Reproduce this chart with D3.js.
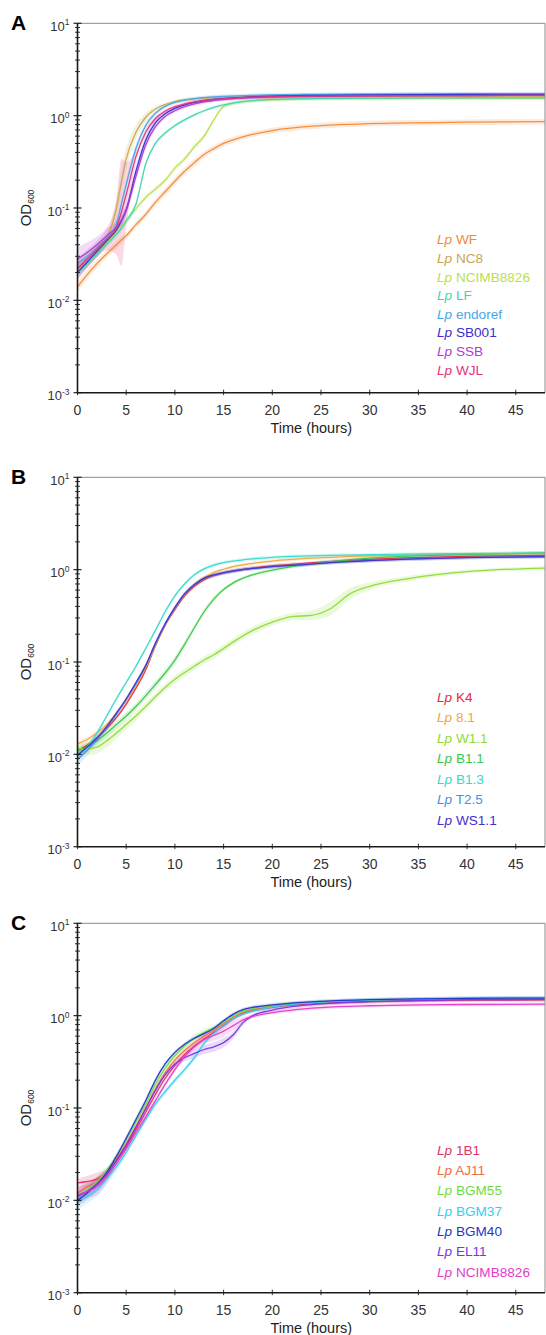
<!DOCTYPE html>
<html>
<head>
<meta charset="utf-8">
<script src="https://cdn.jsdelivr.net/npm/d3@7"></script>
<style>
  html, body { margin: 0; padding: 0; background: #fff; }
  svg { display: block; font-family: "Liberation Sans", Arial, sans-serif; }
</style>
</head>
<body>
<div id="chartDiv"></div>
<script>
'use strict';

// ---- data (OD600 vs time in hours) ----

// panel A
const timesA = [0, 1, 2, 3, 4, 4.5, 5, 6, 7, 8, 9, 10, 11, 12, 13, 14, 15, 17, 20, 25, 30, 40, 48];
const strainsA = ['WF', 'NC8', 'NCIMB8826', 'LF', 'endoref', 'SB001', 'SSB', 'WJL'];
const odA = [
    [0.014, 0.019, 0.025, 0.032, 0.040, 0.045, 0.050, 0.066, 0.085, 0.115, 0.15, 0.195, 0.25, 0.31, 0.38, 0.44, 0.50, 0.59, 0.69, 0.78, 0.82, 0.85, 0.86],
    [0.022, 0.027, 0.034, 0.046, 0.10, 0.19, 0.34, 0.66, 0.96, 1.18, 1.32, 1.42, 1.48, 1.52, 1.55, 1.57, 1.58, 1.60, 1.61, 1.62, 1.62, 1.63, 1.63],
    [0.020, 0.025, 0.032, 0.042, 0.055, 0.063, 0.073, 0.098, 0.13, 0.16, 0.20, 0.27, 0.34, 0.46, 0.60, 0.90, 1.25, 1.42, 1.48, 1.52, 1.53, 1.54, 1.54],
    [0.020, 0.025, 0.032, 0.041, 0.052, 0.060, 0.072, 0.11, 0.30, 0.50, 0.65, 0.78, 0.90, 1.02, 1.13, 1.23, 1.31, 1.42, 1.50, 1.54, 1.55, 1.56, 1.56],
    [0.025, 0.030, 0.037, 0.047, 0.068, 0.11, 0.18, 0.44, 0.78, 1.06, 1.26, 1.39, 1.47, 1.53, 1.57, 1.60, 1.62, 1.65, 1.68, 1.70, 1.71, 1.72, 1.72],
    [0.020, 0.026, 0.034, 0.044, 0.058, 0.072, 0.095, 0.25, 0.54, 0.84, 1.05, 1.20, 1.31, 1.39, 1.45, 1.50, 1.53, 1.58, 1.63, 1.66, 1.68, 1.70, 1.70],
    [0.028, 0.033, 0.040, 0.050, 0.062, 0.074, 0.095, 0.22, 0.48, 0.76, 0.98, 1.13, 1.25, 1.34, 1.41, 1.46, 1.50, 1.55, 1.59, 1.62, 1.64, 1.65, 1.66],
    [0.022, 0.028, 0.036, 0.046, 0.062, 0.090, 0.14, 0.36, 0.66, 0.93, 1.12, 1.25, 1.34, 1.41, 1.46, 1.50, 1.53, 1.57, 1.61, 1.63, 1.64, 1.65, 1.66]
];
// half-width of the shaded band, in log10 units
const bandA = [
    [0.05, 0.05, 0.045, 0.04, 0.04, 0.04, 0.035, 0.035, 0.035, 0.04, 0.04, 0.04, 0.04, 0.04, 0.035, 0.035, 0.035, 0.03, 0.03, 0.03, 0.03, 0.03, 0.03],
    [0.06, 0.05, 0.05, 0.06, 0.12, 0.15, 0.12, 0.08, 0.05, 0.03, 0.02, 0.02, 0.02, 0.02, 0.02, 0.02, 0.02, 0.02, 0.02, 0.02, 0.02, 0.02, 0.02],
    [0.03, 0.03, 0.03, 0.03, 0.03, 0.03, 0.03, 0.03, 0.03, 0.03, 0.03, 0.03, 0.03, 0.03, 0.03, 0.02, 0.02, 0.02, 0.02, 0.02, 0.02, 0.02, 0.02],
    [0.04, 0.04, 0.04, 0.04, 0.04, 0.04, 0.04, 0.03, 0.03, 0.02, 0.02, 0.02, 0.02, 0.02, 0.02, 0.02, 0.02, 0.02, 0.02, 0.02, 0.02, 0.02, 0.02],
    [0.06, 0.05, 0.05, 0.05, 0.05, 0.06, 0.06, 0.05, 0.03, 0.02, 0.02, 0.02, 0.02, 0.02, 0.02, 0.02, 0.02, 0.02, 0.02, 0.02, 0.02, 0.02, 0.02],
    [0.07, 0.06, 0.06, 0.05, 0.05, 0.05, 0.05, 0.05, 0.04, 0.03, 0.02, 0.02, 0.02, 0.02, 0.02, 0.02, 0.02, 0.02, 0.02, 0.02, 0.02, 0.02, 0.02],
    [0.13, 0.11, 0.09, 0.08, 0.07, 0.07, 0.06, 0.05, 0.04, 0.03, 0.02, 0.02, 0.02, 0.02, 0.02, 0.02, 0.02, 0.02, 0.02, 0.02, 0.02, 0.02, 0.02],
    [0.12, 0.10, 0.09, 0.12, 0.30, 0.58, 0.35, 0.06, 0.04, 0.03, 0.02, 0.02, 0.02, 0.02, 0.02, 0.02, 0.02, 0.02, 0.02, 0.02, 0.02, 0.02, 0.02]
];

// panel B
const timesB = [0, 1, 2, 3, 4, 5, 6, 7, 8, 9, 10, 11, 12, 13, 14, 15, 16, 18, 20, 22, 24, 26, 28, 30, 34, 40, 48];
const strainsB = ['K4', '8.1', 'W1.1', 'B1.1', 'B1.3', 'T2.5', 'WS1.1'];
const odB = [
    [0.011, 0.0125, 0.015, 0.019, 0.025, 0.035, 0.052, 0.082, 0.15, 0.25, 0.37, 0.52, 0.66, 0.78, 0.86, 0.92, 0.97, 1.04, 1.10, 1.14, 1.18, 1.22, 1.26, 1.29, 1.34, 1.39, 1.43],
    [0.013, 0.0145, 0.017, 0.021, 0.028, 0.038, 0.055, 0.087, 0.15, 0.25, 0.38, 0.54, 0.69, 0.82, 0.93, 1.01, 1.08, 1.17, 1.24, 1.29, 1.33, 1.36, 1.39, 1.41, 1.44, 1.47, 1.50],
    [0.0115, 0.0115, 0.012, 0.014, 0.017, 0.021, 0.026, 0.033, 0.042, 0.053, 0.065, 0.077, 0.090, 0.105, 0.12, 0.14, 0.165, 0.22, 0.27, 0.31, 0.32, 0.38, 0.55, 0.66, 0.80, 0.95, 1.04],
    [0.011, 0.012, 0.014, 0.017, 0.021, 0.026, 0.033, 0.043, 0.057, 0.076, 0.105, 0.155, 0.235, 0.35, 0.48, 0.61, 0.72, 0.88, 0.99, 1.08, 1.15, 1.22, 1.28, 1.33, 1.40, 1.46, 1.52],
    [0.0095, 0.012, 0.017, 0.026, 0.040, 0.060, 0.090, 0.14, 0.22, 0.35, 0.52, 0.70, 0.88, 1.02, 1.12, 1.19, 1.24, 1.31, 1.36, 1.39, 1.41, 1.43, 1.44, 1.45, 1.47, 1.49, 1.51],
    [0.0088, 0.011, 0.0145, 0.0195, 0.027, 0.039, 0.058, 0.09, 0.155, 0.255, 0.385, 0.54, 0.68, 0.80, 0.87, 0.92, 0.96, 1.03, 1.08, 1.12, 1.16, 1.20, 1.23, 1.26, 1.31, 1.36, 1.39],
    [0.0098, 0.012, 0.015, 0.020, 0.028, 0.040, 0.060, 0.092, 0.16, 0.26, 0.39, 0.55, 0.69, 0.81, 0.88, 0.93, 0.97, 1.03, 1.08, 1.11, 1.15, 1.19, 1.22, 1.25, 1.30, 1.35, 1.38]
];
const bandB = [
    [0.03, 0.03, 0.03, 0.03, 0.02, 0.02, 0.02, 0.02, 0.02, 0.02, 0.02, 0.02, 0.02, 0.02, 0.02, 0.02, 0.02, 0.02, 0.02, 0.02, 0.02, 0.02, 0.02, 0.02, 0.02, 0.02, 0.02],
    [0.03, 0.03, 0.03, 0.03, 0.02, 0.02, 0.02, 0.02, 0.02, 0.02, 0.02, 0.02, 0.02, 0.02, 0.02, 0.02, 0.02, 0.02, 0.02, 0.02, 0.02, 0.02, 0.02, 0.02, 0.02, 0.02, 0.02],
    [0.06, 0.07, 0.07, 0.07, 0.06, 0.05, 0.05, 0.04, 0.04, 0.04, 0.04, 0.04, 0.04, 0.04, 0.04, 0.04, 0.04, 0.04, 0.04, 0.04, 0.05, 0.07, 0.06, 0.04, 0.03, 0.02, 0.02],
    [0.04, 0.04, 0.04, 0.04, 0.04, 0.04, 0.04, 0.04, 0.04, 0.04, 0.04, 0.04, 0.03, 0.03, 0.03, 0.02, 0.02, 0.02, 0.02, 0.02, 0.02, 0.02, 0.02, 0.02, 0.02, 0.02, 0.02],
    [0.03, 0.03, 0.03, 0.02, 0.02, 0.02, 0.02, 0.02, 0.02, 0.02, 0.02, 0.02, 0.02, 0.02, 0.02, 0.02, 0.02, 0.02, 0.02, 0.02, 0.02, 0.02, 0.02, 0.02, 0.02, 0.02, 0.02],
    [0.07, 0.05, 0.04, 0.03, 0.02, 0.02, 0.02, 0.02, 0.02, 0.02, 0.02, 0.02, 0.02, 0.02, 0.02, 0.02, 0.02, 0.02, 0.02, 0.02, 0.02, 0.02, 0.02, 0.02, 0.02, 0.02, 0.02],
    [0.04, 0.03, 0.03, 0.02, 0.02, 0.02, 0.02, 0.02, 0.02, 0.02, 0.02, 0.02, 0.02, 0.02, 0.02, 0.02, 0.02, 0.02, 0.02, 0.02, 0.02, 0.02, 0.02, 0.02, 0.02, 0.02, 0.02]
];

// panel C
const timesC = [0, 1, 2, 3, 4, 5, 6, 7, 8, 9, 10, 11, 12, 13, 14, 15, 16, 17, 18, 20, 22, 25, 30, 35, 40, 48];
const strainsC = ['1B1', 'AJ11', 'BGM55', 'BGM37', 'BGM40', 'EL11', 'NCIMB8826'];
const odC = [
    [0.0155, 0.016, 0.017, 0.020, 0.027, 0.038, 0.058, 0.090, 0.14, 0.21, 0.29, 0.38, 0.47, 0.56, 0.66, 0.78, 0.92, 1.05, 1.13, 1.23, 1.30, 1.36, 1.42, 1.45, 1.47, 1.48],
    [0.012, 0.014, 0.016, 0.020, 0.028, 0.041, 0.063, 0.10, 0.16, 0.24, 0.33, 0.42, 0.51, 0.60, 0.70, 0.82, 0.96, 1.08, 1.16, 1.26, 1.33, 1.39, 1.45, 1.48, 1.50, 1.51],
    [0.011, 0.013, 0.016, 0.021, 0.030, 0.045, 0.070, 0.11, 0.18, 0.27, 0.37, 0.47, 0.57, 0.66, 0.74, 0.86, 1.00, 1.12, 1.19, 1.28, 1.34, 1.40, 1.46, 1.49, 1.51, 1.52],
    [0.0095, 0.011, 0.013, 0.017, 0.023, 0.033, 0.050, 0.075, 0.11, 0.15, 0.20, 0.26, 0.35, 0.50, 0.64, 0.79, 0.93, 1.04, 1.12, 1.24, 1.32, 1.40, 1.47, 1.51, 1.54, 1.56],
    [0.010, 0.012, 0.015, 0.020, 0.030, 0.047, 0.075, 0.12, 0.20, 0.30, 0.40, 0.49, 0.57, 0.64, 0.73, 0.88, 1.04, 1.16, 1.23, 1.31, 1.37, 1.43, 1.49, 1.52, 1.54, 1.55],
    [0.011, 0.0125, 0.015, 0.019, 0.027, 0.040, 0.062, 0.098, 0.155, 0.23, 0.30, 0.35, 0.39, 0.43, 0.46, 0.51, 0.62, 0.84, 1.00, 1.15, 1.25, 1.34, 1.42, 1.46, 1.49, 1.50],
    [0.0115, 0.0125, 0.014, 0.018, 0.025, 0.036, 0.054, 0.080, 0.12, 0.18, 0.26, 0.36, 0.46, 0.55, 0.61, 0.68, 0.78, 0.90, 0.98, 1.08, 1.15, 1.22, 1.28, 1.31, 1.32, 1.33]
];
const bandC = [
    [0.05, 0.06, 0.07, 0.05, 0.04, 0.03, 0.03, 0.03, 0.03, 0.03, 0.03, 0.03, 0.03, 0.03, 0.03, 0.03, 0.02, 0.02, 0.02, 0.02, 0.02, 0.02, 0.02, 0.02, 0.02, 0.02],
    [0.05, 0.05, 0.05, 0.04, 0.03, 0.03, 0.03, 0.03, 0.03, 0.03, 0.03, 0.03, 0.03, 0.03, 0.03, 0.02, 0.02, 0.02, 0.02, 0.02, 0.02, 0.02, 0.02, 0.02, 0.02, 0.02],
    [0.05, 0.05, 0.05, 0.04, 0.03, 0.03, 0.03, 0.03, 0.03, 0.03, 0.03, 0.03, 0.04, 0.04, 0.03, 0.02, 0.02, 0.02, 0.02, 0.02, 0.02, 0.02, 0.02, 0.02, 0.02, 0.02],
    [0.08, 0.07, 0.07, 0.06, 0.05, 0.04, 0.03, 0.03, 0.03, 0.03, 0.03, 0.03, 0.03, 0.03, 0.03, 0.02, 0.02, 0.02, 0.02, 0.02, 0.02, 0.02, 0.02, 0.02, 0.02, 0.02],
    [0.04, 0.04, 0.04, 0.03, 0.03, 0.03, 0.03, 0.03, 0.03, 0.02, 0.02, 0.02, 0.02, 0.02, 0.02, 0.02, 0.02, 0.02, 0.02, 0.02, 0.02, 0.02, 0.02, 0.02, 0.02, 0.02],
    [0.10, 0.09, 0.08, 0.06, 0.04, 0.03, 0.03, 0.03, 0.03, 0.03, 0.03, 0.04, 0.05, 0.05, 0.05, 0.05, 0.04, 0.03, 0.02, 0.02, 0.02, 0.02, 0.02, 0.02, 0.02, 0.02],
    [0.07, 0.07, 0.09, 0.07, 0.04, 0.03, 0.03, 0.03, 0.03, 0.03, 0.03, 0.03, 0.03, 0.04, 0.06, 0.06, 0.05, 0.03, 0.02, 0.02, 0.02, 0.02, 0.02, 0.02, 0.02, 0.02]
];

// axis ticks
const xTicks = [0, 5, 10, 15, 20, 25, 30, 35, 40, 45];
const yExponents = [-3, -2, -1, 0, 1];

// ---- styles ----
const colorsA = ['#f28a38', '#c9a64e', '#b8e051', '#3fd6b0', '#45a8e6', '#3a2fd0', '#b03ad8', '#e8307e'];
const colorsB = ['#e8283a', '#efa640', '#8edb36', '#38c848', '#35d9cf', '#4a90e2', '#4630cc'];
const colorsC = ['#e0336a', '#f2693f', '#6edb46', '#33cfef', '#1e36c8', '#7a35e0', '#e23cc8'];

const WIDTH = 546;
const HEIGHT = 1335;
const PLOT_LEFT = 77.5;
const PLOT_RIGHT = 545;
const PLOT_H = 369.4;

const svg = d3.select('#chartDiv')
    .append('svg')
    .attr('width', WIDTH)
    .attr('height', HEIGHT);

const drawPanel = (opt)=>{

    const top = opt.top;
    const bottom = top + PLOT_H;

    const xScale = d3.scaleLinear().domain([0, 48]).range([PLOT_LEFT, PLOT_RIGHT]);
    const yScale = d3.scaleLog().domain([1e-3, 10]).range([bottom, top]);

    const g = svg.append('g');

    const clipId = 'clip-' + opt.letter;
    g.append('clipPath').attr('id', clipId)
        .append('rect')
        .attr('x', PLOT_LEFT).attr('y', top)
        .attr('width', PLOT_RIGHT - PLOT_LEFT).attr('height', PLOT_H);

    const plot = g.append('g').attr('clip-path', `url(#${clipId})`);

    const area = d3.area()
        .x(d => xScale(d.t))
        .y0(d => yScale(d.v / Math.pow(10, d.b)))
        .y1(d => yScale(d.v * Math.pow(10, d.b)))
        .curve(d3.curveMonotoneX);

    const line = d3.line()
        .x(d => xScale(d.t))
        .y(d => yScale(d.v))
        .curve(d3.curveMonotoneX);

    const series = opt.values.map((vals, i)=>{
        return vals.map((v, j)=>({ t: opt.times[j], v: v, b: opt.bands[i][j] }));
    });

    // shaded spread
    series.forEach((s, i)=>{
        plot.append('path')
            .datum(s)
            .attr('d', area)
            .attr('fill', opt.colors[i])
            .attr('fill-opacity', 0.18);
    });

    // mean curves
    series.forEach((s, i)=>{
        plot.append('path')
            .datum(s)
            .attr('d', line)
            .attr('fill', 'none')
            .attr('stroke', opt.colors[i])
            .attr('stroke-width', 1.3)
            .attr('stroke-opacity', 0.95);
    });

    // frame: grey top/right, black left/bottom
    g.append('path')
        .attr('d', `M${PLOT_LEFT},${top}H${PLOT_RIGHT}V${bottom}`)
        .attr('fill', 'none')
        .attr('stroke', '#8a8a8a')
        .attr('stroke-width', 1);

    // y axis (log) with minor ticks
    const minor = [];
    yExponents.slice(0, -1).forEach(e=>{
        for (let k = 2; k <= 9; k++) minor.push(k * Math.pow(10, e));
    });
    const yAxis = g.append('g');
    yAxis.selectAll('line.minor')
        .data(minor)
        .join('line')
        .attr('x1', PLOT_LEFT - 2.5).attr('x2', PLOT_LEFT + 2.5)
        .attr('y1', d => yScale(d)).attr('y2', d => yScale(d))
        .attr('stroke', '#333').attr('stroke-width', 1);
    yAxis.selectAll('line.major')
        .data(yExponents)
        .join('line')
        .attr('x1', PLOT_LEFT - 4).attr('x2', PLOT_LEFT + 4)
        .attr('y1', d => yScale(Math.pow(10, d))).attr('y2', d => yScale(Math.pow(10, d)))
        .attr('stroke', '#222').attr('stroke-width', 1.2);
    const yLab = yAxis.selectAll('text')
        .data(yExponents)
        .join('text')
        .attr('x', PLOT_LEFT - 8)
        .attr('y', d => yScale(Math.pow(10, d)) + 7.5)
        .attr('text-anchor', 'end')
        .attr('fill', '#333')
        .style('font-size', '13px');
    yLab.append('tspan').text('10');
    yLab.append('tspan')
        .attr('dy', -5.5)
        .style('font-size', '8.5px')
        .text(d => d);

    // x axis
    const xAxis = g.append('g');
    xAxis.selectAll('line')
        .data(xTicks)
        .join('line')
        .attr('x1', d => xScale(d)).attr('x2', d => xScale(d))
        .attr('y1', bottom - 3).attr('y2', bottom + 2.5)
        .attr('stroke', '#333').attr('stroke-width', 1);
    xAxis.selectAll('text')
        .data(xTicks)
        .join('text')
        .attr('x', d => xScale(d))
        .attr('y', bottom + 22.5)
        .attr('text-anchor', 'middle')
        .attr('fill', '#333')
        .style('font-size', '14px')
        .text(d => d);

    g.append('path')
        .attr('d', `M${PLOT_LEFT},${top}V${bottom}H${PLOT_RIGHT}`)
        .attr('fill', 'none')
        .attr('stroke', '#1a1a1a')
        .attr('stroke-width', 1.6);

    // axis titles
    g.append('text')
        .attr('x', (PLOT_LEFT + PLOT_RIGHT) / 2)
        .attr('y', bottom + 40)
        .attr('text-anchor', 'middle')
        .attr('fill', '#222')
        .style('font-size', '14.5px')
        .text('Time (hours)');

    const yTitle = g.append('text')
        .attr('transform', `translate(31,${(top + bottom) / 2}) rotate(-90)`)
        .attr('text-anchor', 'middle')
        .attr('fill', '#222')
        .style('font-size', '15px');
    yTitle.append('tspan').text('OD');
    yTitle.append('tspan').attr('dy', 3).style('font-size', '8.5px').text('600');

    // panel letter
    g.append('text')
        .attr('x', 11)
        .attr('y', top + 7)
        .attr('fill', '#000')
        .style('font-size', '21px')
        .style('font-weight', 'bold')
        .text(opt.letter);

    // legend
    const leg = g.selectAll('text.legend')
        .data(opt.strains)
        .join('text')
        .attr('class', 'legend')
        .attr('x', 437)
        .attr('y', (d, i) => top + opt.legendTop + i * opt.legendStep + 5)
        .attr('fill', (d, i) => opt.colors[i])
        .style('font-size', '13.6px');
    leg.append('tspan').style('font-style', 'italic').text('Lp');
    leg.append('tspan').text(d => ' ' + d);
};

drawPanel({ letter: 'A', top: 23.3, times: timesA, strains: strainsA, values: odA, bands: bandA, colors: colorsA, legendTop: 216, legendStep: 18.6 });
drawPanel({ letter: 'B', top: 477.3, times: timesB, strains: strainsB, values: odB, bands: bandB, colors: colorsB, legendTop: 219.5, legendStep: 20.5 });
drawPanel({ letter: 'C', top: 923.3, times: timesC, strains: strainsC, values: odC, bands: bandC, colors: colorsC, legendTop: 226.5, legendStep: 20.3 });
</script>
</body>
</html>
